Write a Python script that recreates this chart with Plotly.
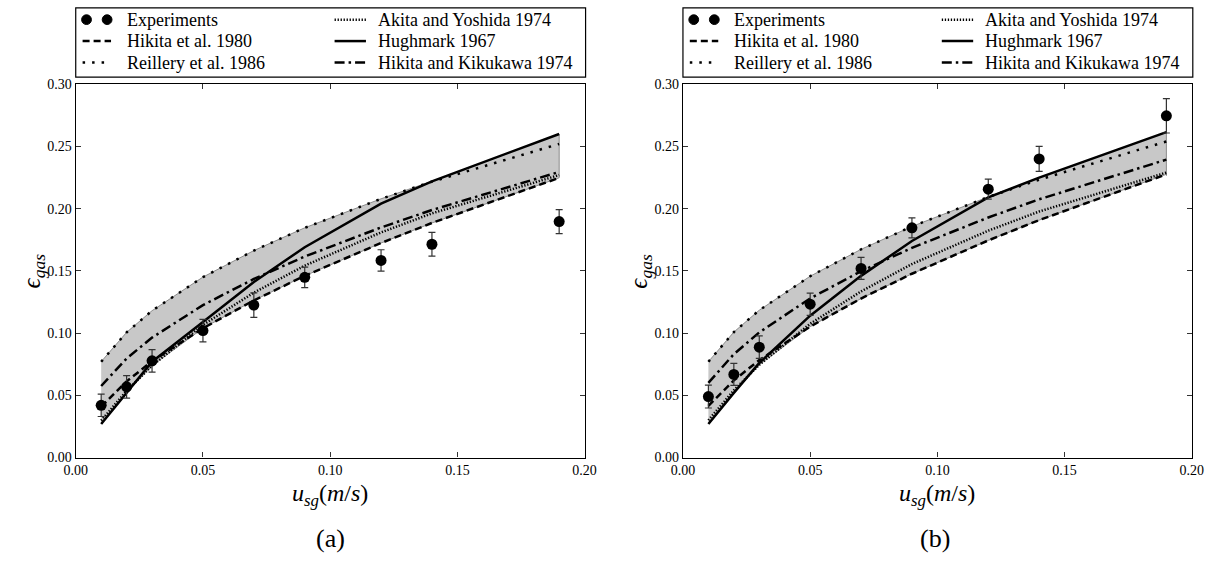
import plotly.graph_objects as go

# ---------------- data ----------------
usg = [0.01, 0.02, 0.03, 0.05, 0.07, 0.09, 0.12, 0.14, 0.19]

# panel (a)
exp_a = [0.042, 0.0568, 0.0777, 0.102, 0.1225, 0.1448, 0.1584, 0.1714, 0.1896]
err_a = [0.009, 0.009, 0.009, 0.009, 0.0099, 0.0082, 0.0086, 0.0095, 0.0096]
hikita1980_a = [0.041, 0.0612, 0.0774, 0.1039, 0.1263, 0.146, 0.1724, 0.1885, 0.2248]
reilly_a = [0.077, 0.1006, 0.118, 0.145, 0.1663, 0.1846, 0.2079, 0.2217, 0.252]
akita_a = [0.0297, 0.0536, 0.0738, 0.1066, 0.1325, 0.1542, 0.1809, 0.1962, 0.227]
hughmark_a = [0.027, 0.052, 0.077, 0.109, 0.141, 0.169, 0.204, 0.222, 0.260]
hikita1974_a = [0.0575, 0.0796, 0.0964, 0.1225, 0.1435, 0.1615, 0.1849, 0.1989, 0.2295]

# panel (b)
exp_b = [0.049, 0.0668, 0.0887, 0.1232, 0.152, 0.1846, 0.2157, 0.240, 0.2746]
err_b = [0.0092, 0.0088, 0.009, 0.009, 0.0088, 0.008, 0.008, 0.010, 0.0138]
hikita1980_b = [0.0415, 0.062, 0.0783, 0.1052, 0.1278, 0.1477, 0.1745, 0.1908, 0.2276]
reilly_b = [0.077, 0.1008, 0.1184, 0.1457, 0.1673, 0.1857, 0.2094, 0.2233, 0.254]
akita_b = [0.030, 0.054, 0.0745, 0.1075, 0.1335, 0.1555, 0.1823, 0.1977, 0.229]
hughmark_b = [0.027, 0.052, 0.076, 0.114, 0.146, 0.174, 0.209, 0.225, 0.2615]
hikita1974_b = [0.060, 0.0831, 0.1006, 0.1279, 0.1497, 0.1685, 0.1929, 0.2075, 0.2394]

x_ticks = [0.00, 0.05, 0.10, 0.15, 0.20]
y_ticks = [0.00, 0.05, 0.10, 0.15, 0.20, 0.25, 0.30]

labels = ["Experiments", "Hikita et al. 1980", "Reillery et al. 1986",
          "Akita and Yoshida 1974", "Hughmark 1967", "Hikita and Kikukawa 1974"]

# ---------------- styling ----------------
W, H = 1230, 571
SERIF = "Liberation Serif"
MATH = "Liberation Serif"
LW = 2.5
styles = {
    "Hikita et al. 1980": dict(color="black", width=LW, dash="7px,4px"),
    "Reillery et al. 1986": dict(color="black", width=LW, dash="2.5px,7px"),
    "Akita and Yoshida 1974": dict(color="black", width=LW, dash="1.3px,1.7px"),
    "Hughmark 1967": dict(color="black", width=LW, dash="solid"),
    "Hikita and Kikukawa 1974": dict(color="black", width=LW, dash="10px,4px,2.5px,4px"),
}

fig = go.Figure()

panels = [
    dict(xa="x", ya="y", exp=exp_a, err=err_a,
         series={"Hikita et al. 1980": hikita1980_a, "Reillery et al. 1986": reilly_a,
                 "Akita and Yoshida 1974": akita_a, "Hughmark 1967": hughmark_a,
                 "Hikita and Kikukawa 1974": hikita1974_a}),
    dict(xa="x2", ya="y2", exp=exp_b, err=err_b,
         series={"Hikita et al. 1980": hikita1980_b, "Reillery et al. 1986": reilly_b,
                 "Akita and Yoshida 1974": akita_b, "Hughmark 1967": hughmark_b,
                 "Hikita and Kikukawa 1974": hikita1974_b}),
]

for p in panels:
    vals = list(p["series"].values())
    top = [max(v[i] for v in vals) for i in range(len(usg))]
    bot = [min(v[i] for v in vals) for i in range(len(usg))]
    fig.add_trace(go.Scatter(
        x=usg + usg[::-1], y=top + bot[::-1], fill="toself",
        fillcolor="#c8c8c8", line=dict(color="#8c8c8c", width=1),
        mode="lines", xaxis=p["xa"], yaxis=p["ya"], showlegend=False, hoverinfo="skip"))
    for name, v in p["series"].items():
        fig.add_trace(go.Scatter(x=usg, y=v, mode="lines", line=styles[name],
                                 xaxis=p["xa"], yaxis=p["ya"], showlegend=False, name=name))
    fig.add_trace(go.Scatter(
        x=usg, y=p["exp"], mode="markers",
        marker=dict(color="black", size=11, symbol="circle"),
        error_y=dict(type="data", array=p["err"], color="#333333", thickness=1.2, width=3.5),
        xaxis=p["xa"], yaxis=p["ya"], showlegend=False, name="Experiments"))

# plot area geometry (pixels)
PX = [(65, 584), (684.3, 1203.3)]
PY_TOP, PY_BOT = 79.3, 462.7

def xp(px):
    return px / W

def yp(py):
    return 1 - py / H

axis_common = dict(showline=True, linecolor="black", linewidth=1.2, mirror="allticks",
                   ticks="inside", ticklen=5, tickwidth=1, tickcolor="#333333",
                   showgrid=False, zeroline=False, tickformat=".2f",
                   tickfont=dict(family=SERIF, size=14, color="black"))

fig.update_layout(
    width=W, height=H, margin=dict(l=0, r=0, t=0, b=0),
    paper_bgcolor="white", plot_bgcolor="white", showlegend=False,
    xaxis=dict(domain=[xp(PX[0][0]), xp(PX[0][1])], range=[0, 0.2], tickvals=x_ticks,
               anchor="y", **axis_common),
    yaxis=dict(domain=[yp(PY_BOT), yp(PY_TOP)], range=[0, 0.3], tickvals=y_ticks,
               anchor="x", **axis_common),
    xaxis2=dict(domain=[xp(PX[1][0]), xp(PX[1][1])], range=[0, 0.2], tickvals=x_ticks,
                anchor="y2", **axis_common),
    yaxis2=dict(domain=[yp(PY_BOT), yp(PY_TOP)], range=[0, 0.3], tickvals=y_ticks,
                anchor="x2", **axis_common),
)

shapes = []
annotations = []

for k, (x0, x1) in enumerate(PX):
    cx = (x0 + x1) / 2
    # axis labels
    annotations.append(dict(
        x=xp(cx), y=yp(484), xref="paper", yref="paper", xanchor="center", yanchor="top",
        text="<i>u</i><sub><i>sg</i></sub>(<i>m</i>/<i>s</i>)", showarrow=False,
        font=dict(family=MATH, size=24, color="black")))
    annotations.append(dict(
        x=xp(x0 - 43), y=yp((PY_TOP + PY_BOT) / 2), xref="paper", yref="paper",
        xanchor="center", yanchor="middle", textangle=-90,
        text="<i>ϵ</i><sub><i>gas</i></sub>", showarrow=False,
        font=dict(family=MATH, size=25, color="black")))
    annotations.append(dict(
        x=xp(cx + (0 if k == 0 else -2)), y=yp(546), xref="paper", yref="paper",
        xanchor="center", yanchor="middle", text="(a)" if k == 0 else "(b)",
        showarrow=False, font=dict(family=MATH, size=26, color="black")))

    # legend box
    shapes.append(dict(type="rect", xref="paper", yref="paper",
                       x0=xp(x0), x1=xp(x0 + 520), y0=yp(72), y1=yp(1),
                       line=dict(color="black", width=1.2), fillcolor="white", layer="above"))
    rows = [13, 35, 57]
    cols = [(x0 + 11, x0 + 32, x0 + 50), (x0 + 268, x0 + 292, x0 + 306)]
    for i, lab in enumerate(labels):
        c = cols[i // 3]
        r = rows[i % 3]
        if lab == "Experiments":
            for mx in (c[0], c[1]):
                shapes.append(dict(type="circle", xref="paper", yref="paper",
                                   x0=xp(mx - 5), x1=xp(mx + 5), y0=yp(r + 5), y1=yp(r - 5),
                                   fillcolor="black", line=dict(color="black", width=1),
                                   layer="above"))
        else:
            st = styles[lab]
            shapes.append(dict(type="line", xref="paper", yref="paper",
                               x0=xp(c[0] - 4), x1=xp(c[1] + 4), y0=yp(r), y1=yp(r),
                               line=dict(color="black", width=st["width"], dash=st["dash"]),
                               layer="above"))
        annotations.append(dict(
            x=xp(c[2]), y=yp(r), xref="paper", yref="paper", xanchor="left", yanchor="middle",
            text=lab, showarrow=False, font=dict(family=SERIF, size=18, color="black")))

fig.update_layout(shapes=shapes, annotations=annotations)

fig.write_html("out.html")
